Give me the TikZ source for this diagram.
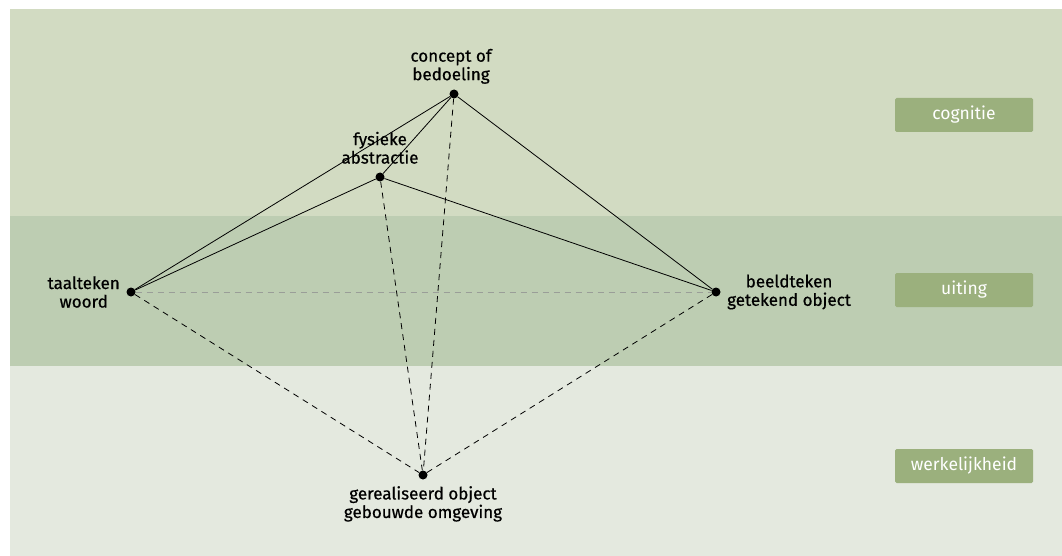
\documentclass[tikz,border=0pt]{standalone}
\usepackage{fontspec}
\setmainfont{Fira Sans}[BoldFont={Fira Sans},BoldFeatures={FakeBold=0.6}]
\usepackage{tikz}
\definecolor{bandtop}{HTML}{D2DBC2}
\definecolor{bandmid}{HTML}{BDCDB2}
\definecolor{bandlow}{HTML}{E4E9DF}
\definecolor{tag}{HTML}{9BB07D}
\definecolor{grijs}{HTML}{9A9E98}

\begin{document}
\begin{tikzpicture}[x=1pt,y=-1pt]
		\tikzstyle{punt}=[circle,fill=black,inner sep=0pt,minimum size=9pt]
		\tikzstyle{tekst}=[align=center,font=\fontsize{17}{18.5}\selectfont\bfseries,inner sep=2pt]
		\tikzstyle{laag}=[fill=tag,rounded corners=1.5pt,text=white,minimum width=138pt,minimum height=34pt,font=\fontsize{17.5}{18}\selectfont]
		\tikzstyle{lijn}=[black,line width=0.8pt]
		\tikzstyle{stippel}=[black,line width=0.8pt,dash pattern=on 6pt off 5pt]
		\useasboundingbox (0,0) rectangle (1062,556);
		% banden
		\fill[white] (0,0) rectangle (1062,556);
		\fill[bandtop] (10,9) rectangle (1062,216);
		\fill[bandmid] (10,216) rectangle (1062,366);
		\fill[bandlow] (10,366) rectangle (1062,556);
		\node[laag] (L1) at (964,115){cognitie};
		\node[laag] (L2) at (964,290){uiting};
		\node[laag] (L3) at (964,466){werkelijkheid};
		% punten
		\node[punt] (C) at (454,94){};
		\node[punt] (F) at (380,177){};
		\node[punt] (T) at (131,292){};
		\node[punt] (B) at (716,292){};
		\node[punt] (G) at (423,475){};
		\node[tekst,anchor=south] (tC) at (451,86){concept of\\bedoeling};
		\node[tekst,anchor=south] (tF) at (380,166){fysieke\\abstractie};
		\node[tekst,anchor=east] (tT) at (122,292){taalteken\\woord};
		\node[tekst,anchor=west] (tB) at (725,292){beeldteken\\getekend object};
		\node[tekst,anchor=north] (tG) at (423,484){gerealiseerd object\\gebouwde omgeving};
		
		\draw[grijs,line width=0.8pt,dash pattern=on 6pt off 5pt] (T)--(B);
		\draw[stippel] (C)--(G);
		\draw[stippel] (F)--(G);
		\draw[stippel] (T)--(G);
		\draw[stippel] (B)--(G);
		\draw[lijn] (C)--(T);
		\draw[lijn] (C)--(F);
		\draw[lijn] (C)--(B);
		\draw[lijn] (F)--(T);
		\draw[lijn] (F)--(B);
		
	\end{tikzpicture}
\end{document}
